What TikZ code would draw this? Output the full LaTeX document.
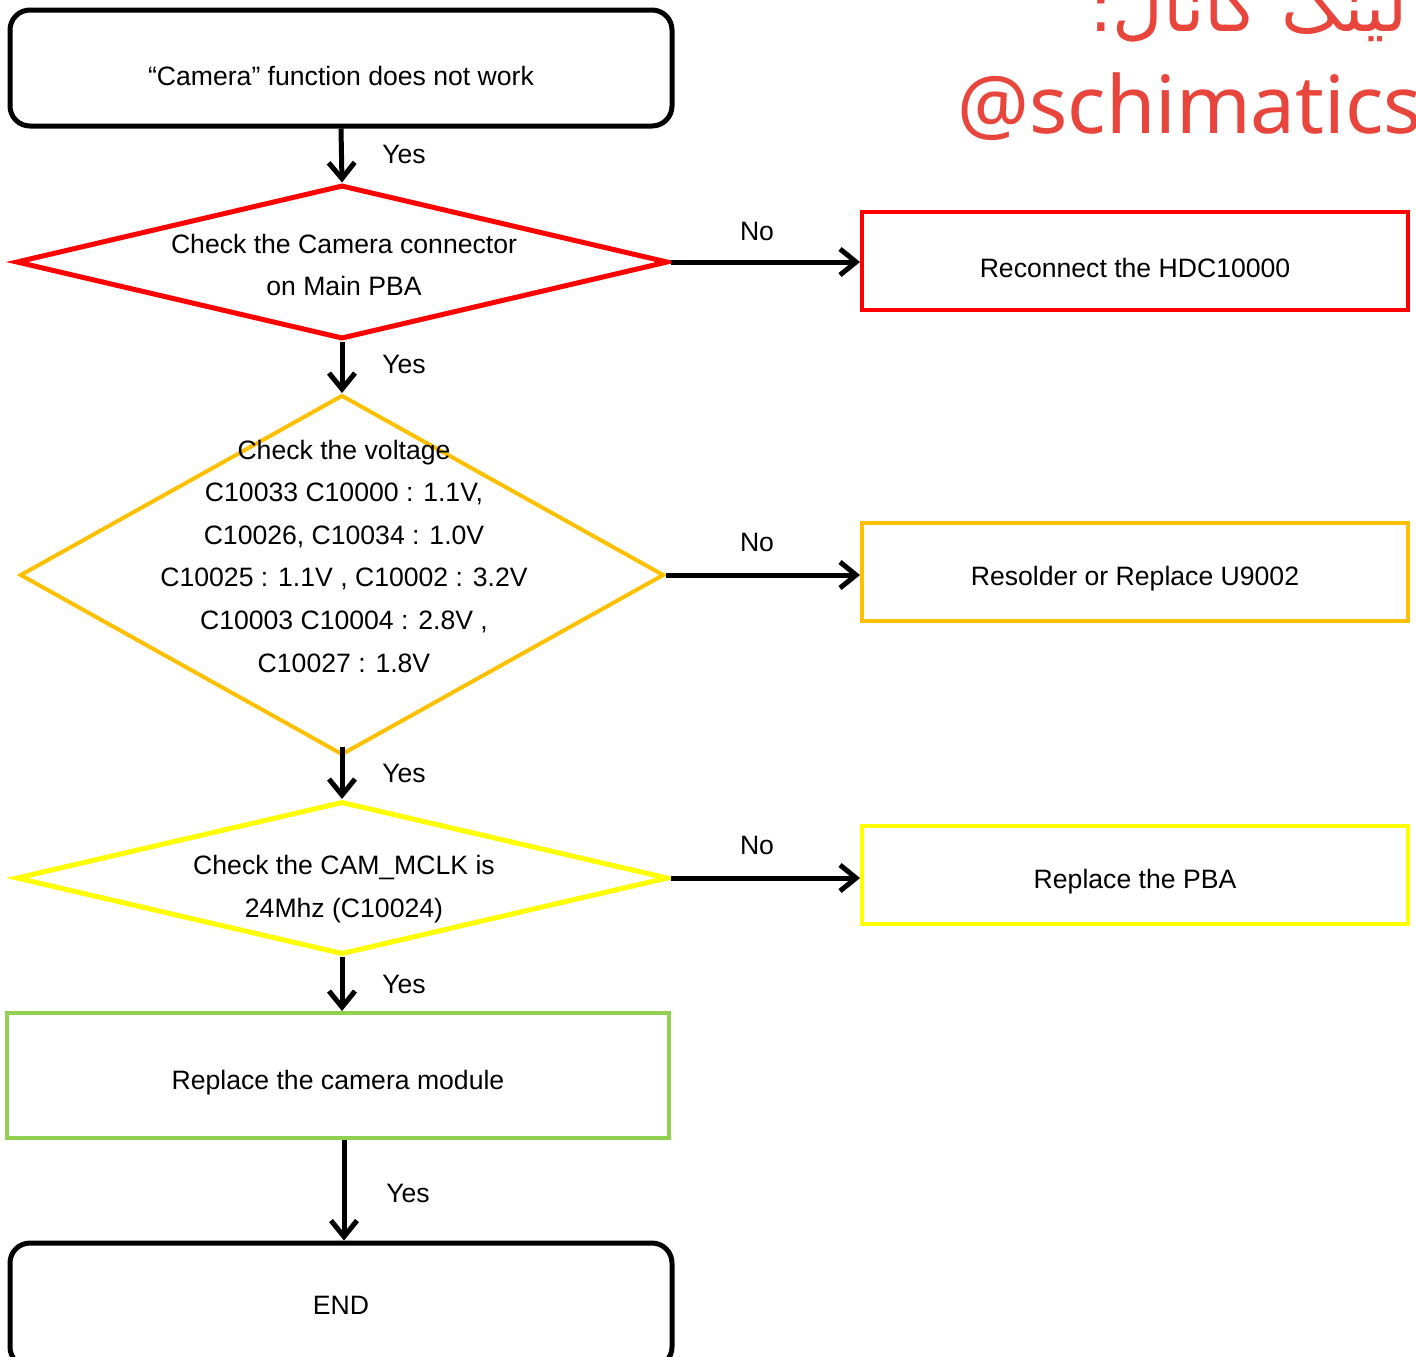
\documentclass[tikz,border=0pt]{standalone}
\usepackage{fontspec}
\setmainfont{Liberation Sans}
\newfontfamily\arabicfont[Script=Arabic]{DejaVu Sans}
\newfontfamily\handlefont{Noto Sans}
\TeXXeTstate=1
\usetikzlibrary{shapes.geometric,arrows.meta}
\definecolor{cred}{HTML}{FF0000}
\definecolor{corange}{HTML}{FFC000}
\definecolor{cyellow}{HTML}{FFFF00}
\definecolor{cgreen}{HTML}{92D050}
\definecolor{wmred}{HTML}{E8453C}
\begin{document}
\begin{tikzpicture}[x=0.5pt,y=-0.5pt,
  txt/.style={font=\fontsize{13.3}{21.3}\selectfont, align=center, inner sep=0},
  lab/.style={font=\fontsize{13.3}{16}\selectfont, inner sep=0},
  term/.style={draw=black, line width=2.5pt, rounded corners=10pt, minimum width=331pt, minimum height=58pt, inner sep=0},
  dec/.style={diamond, draw=#1, line width=2.5pt, inner sep=0},
  act/.style={draw=#1, line width=2pt, minimum width=273pt, minimum height=49pt, inner sep=0},
  flow/.style={-{Straight Barb[length=8pt,width=13pt]}, line width=2.5pt, black}
]
\useasboundingbox (0,0) rectangle (1416,1356);
\clip (0,0) rectangle (1416,1356);

% watermark
\node[anchor=base east, inner sep=0, text=wmred, font=\arabicfont\fontsize{35}{35}\selectfont] (fa) at (1408,31) {\beginR لینک کانال:\endR};
\node[anchor=base west, inner sep=0, text=wmred, font=\handlefont\fontsize{40}{40}\selectfont] (handle) at (957,133) {@schimatics};

% nodes
\node[term] (start) at (341,68) {};
\node[lab] (startt) at ([yshift=-4pt]start.center) {“Camera” function does not work};

\node[dec=cred, minimum width=326pt, minimum height=77pt] (d1) at (342,262) {};
\node[txt] (t1) at (344,265) {Check the Camera connector\\on Main PBA};
\node[act=cred] (r1) at (1135,261) {};
\node[lab] (r1t) at ([yshift=-3.5pt]r1.center) {Reconnect the HDC10000};

\node[dec=corange, line width=2pt, minimum width=322pt, minimum height=180pt] (d2) at (342,575) {};
\node[txt] (t2) at (344,556) {Check the voltage\\C10033 C10000 : 1.1V,\\C10026, C10034 : 1.0V\\C10025 : 1.1V , C10002 : 3.2V\\C10003 C10004 : 2.8V ,\\C10027 : 1.8V};
\node[act=corange] (r2) at (1135,572) {};
\node[lab] (r2t) at ([yshift=-3.5pt]r2.center) {Resolder or Replace U9002};

\node[dec=cyellow, minimum width=326pt, minimum height=76.5pt] (d3) at (342,878) {};
\node[txt] (t3) at (344,889) {Check the CAM\_MCLK is\\24Mhz (C10024)};
\node[act=cyellow] (r3) at (1135,875) {};
\node[lab] (r3t) at ([yshift=-3.5pt]r3.center) {Replace the PBA};

\node[act=cgreen, minimum width=331pt, minimum height=62.5pt] (cam) at (338,1075.5) {};
\node[lab] (camt) at ([yshift=-3.5pt]cam.center) {Replace the camera module};

\node[term, minimum height=62pt] (end) at (341,1305) {};
\node[lab] (endt) at (end.center) {END};

% connectors
\draw[flow] (start.south) -- (d1.north);
\draw[flow] (d1.south) -- (d2.north);
\draw[flow] ([yshift=5pt]d2.south) -- (d3.north);
\draw[flow] (d3.south) -- (d3.south |- cam.north);
\draw[flow] ([xshift=3pt]cam.south) -- ([xshift=3pt]cam.south |- end.north);
\draw[flow] (d1.east) -- (d1.east -| r1.west);
\draw[flow] (d2.east) -- (d2.east -| r2.west);
\draw[flow] (d3.east) -- (d3.east -| r3.west);

% labels
\node[lab] (y1) at (404,154) {Yes};
\node[lab] (y2) at (404,364) {Yes};
\node[lab] (y3) at (404,773) {Yes};
\node[lab] (y4) at (404,984) {Yes};
\node[lab] (y5) at (408,1193) {Yes};
\node[lab] (n1) at (757,231) {No};
\node[lab] (n2) at (757,542) {No};
\node[lab] (n3) at (757,845) {No};
\end{tikzpicture}
\end{document}
